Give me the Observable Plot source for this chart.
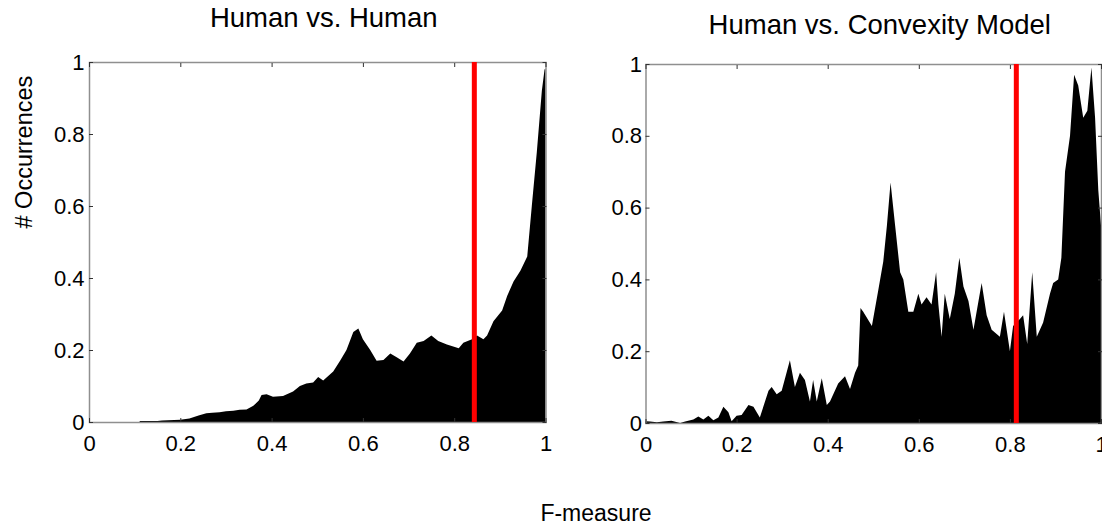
<!DOCTYPE html>
<html><head><meta charset="utf-8">
<script src="https://cdn.jsdelivr.net/npm/d3@7"></script>
<script src="https://cdn.jsdelivr.net/npm/@observablehq/plot@0.6"></script>
<style>
html,body{margin:0;padding:0;background:#fff;}
#wrap{position:relative;width:1102px;height:527px;display:flex;overflow:hidden;background:#fff;}
#xlabel{position:absolute;left:596px;top:502px;transform:translateX(-50%);font-family:"Liberation Sans",Arial,sans-serif;font-size:23px;line-height:23px;white-space:nowrap;color:#000;}
</style></head><body>
<div id="wrap"><div id="xlabel">F-measure</div></div>
<script>
// Tick values
const xTicks = [0, 0.2, 0.4, 0.6, 0.8, 1];
const yTicks = [0, 0.2, 0.4, 0.6, 0.8, 1];

// Panel titles and axis labels
const titleLeft = "Human vs. Human";
const titleRight = "Human vs. Convexity Model";
const yLabel = "# Occurrences";

// Human vs. Human distribution
const hhX = [0,0.11,0.112,0.15,0.16,0.2,0.22,0.24,0.257,0.27,
  0.286,0.3,0.316,0.33,0.345,0.36,0.372,0.378,0.389,0.403,
  0.425,0.447,0.462,0.476,0.491,0.502,0.513,0.535,0.55,0.564,
  0.579,0.59,0.6,0.616,0.63,0.645,0.66,0.674,0.689,0.703,
  0.718,0.733,0.75,0.765,0.784,0.81,0.82,0.839,0.85,0.864,
  0.872,0.886,0.905,0.916,0.93,0.945,0.96,0.97,0.981,0.992,
  0.998,1];
const hhY = [0,0,0.003,0.003,0.004,0.006,0.01,0.018,0.024,0.026,
  0.027,0.03,0.031,0.034,0.035,0.045,0.06,0.075,0.077,0.07,
  0.072,0.085,0.1,0.107,0.11,0.125,0.115,0.14,0.17,0.2,
  0.25,0.26,0.23,0.2,0.17,0.172,0.19,0.18,0.168,0.19,
  0.22,0.225,0.24,0.225,0.215,0.205,0.22,0.23,0.24,0.23,
  0.24,0.28,0.31,0.35,0.39,0.42,0.46,0.6,0.75,0.92,
  0.98,0.98];
const hhThreshold = 0.843;

// Human vs. Convexity Model distribution
const hcX = [0,0.01,0.025,0.039,0.057,0.076,0.087,0.105,0.116,0.127,
  0.138,0.149,0.16,0.171,0.182,0.189,0.2,0.211,0.226,0.237,
  0.251,0.27,0.277,0.288,0.299,0.317,0.328,0.339,0.35,0.361,
  0.368,0.376,0.387,0.398,0.405,0.423,0.438,0.449,0.46,0.467,
  0.472,0.478,0.497,0.511,0.522,0.53,0.538,0.548,0.559,0.566,
  0.577,0.588,0.599,0.606,0.617,0.628,0.638,0.643,0.65,0.657,
  0.668,0.679,0.689,0.698,0.709,0.72,0.738,0.749,0.76,0.778,
  0.787,0.8,0.807,0.822,0.829,0.838,0.849,0.859,0.873,0.888,
  0.895,0.906,0.913,0.921,0.932,0.941,0.95,0.961,0.97,0.979,
  0.987,0.994,1];
const hcY = [0.005,0.004,0.002,0.004,0.006,0,0.004,0.01,0.018,0.01,
  0.02,0.008,0.015,0.045,0.03,0.005,0.02,0.022,0.05,0.045,
  0.015,0.09,0.1,0.08,0.09,0.175,0.1,0.14,0.12,0.06,
  0.12,0.06,0.125,0.05,0.06,0.11,0.13,0.095,0.14,0.16,
  0.32,0.31,0.27,0.37,0.45,0.55,0.67,0.55,0.42,0.4,
  0.31,0.31,0.36,0.33,0.35,0.33,0.42,0.33,0.24,0.36,
  0.29,0.36,0.46,0.38,0.34,0.26,0.39,0.3,0.26,0.24,
  0.31,0.2,0.27,0.29,0.3,0.22,0.42,0.24,0.28,0.36,
  0.39,0.4,0.46,0.7,0.8,0.97,0.94,0.85,0.87,0.99,
  0.85,0.65,0.55];
const hcThreshold = 0.813;

const FONT = "'Liberation Sans', Arial, Helvetica, sans-serif";
const fmt = d => String(+d.toFixed(1));

function panel(o) {
  const data = o.xs.map((x, i) => ({x, y: o.ys[i]}));
  const marks = [
    Plot.areaY(data, {x: "x", y: "y", fill: "black"}),
    Plot.frame({stroke: "#8f8f8f", strokeWidth: 1.5}),
    Plot.axisX({anchor: "bottom", ticks: xTicks, tickSize: 0, tickPadding: 13, tickFormat: fmt, label: null, fontSize: 22}),
    Plot.axisY({anchor: "left", ticks: yTicks, tickSize: 0, tickPadding: o.ypad, tickFormat: fmt, label: null, fontSize: 22}),
    Plot.axisX({anchor: "bottom", ticks: xTicks, tickSize: -4, tickFormat: () => "", label: null, stroke: "#333"}),
    Plot.axisX({anchor: "top", ticks: xTicks, tickSize: -4, tickFormat: () => "", label: null, stroke: "#333"}),
    Plot.axisY({anchor: "left", ticks: yTicks, tickSize: -4, tickFormat: () => "", label: null, stroke: "#333"}),
    Plot.axisY({anchor: "right", ticks: yTicks, tickSize: -4, tickFormat: () => "", label: null, stroke: "#333"}),
    Plot.ruleX([o.thr], {stroke: "#ff0000", strokeWidth: 5}),
    Plot.text([o.title], {frameAnchor: "top", dx: 6, dy: o.titleDy, lineAnchor: "bottom", fontSize: 27.5, fill: "black"})
  ];
  if (o.ylabel) {
    marks.push(Plot.text([o.ylabel], {frameAnchor: "left", rotate: -90, dx: -65, dy: -14, fontSize: 23.5, fill: "black"}));
  }
  return Plot.plot({
    width: o.width,
    height: 527,
    marginLeft: o.ml, marginRight: o.mr, marginTop: o.mt, marginBottom: o.mb,
    x: {domain: [0, 1]},
    y: {domain: [0, 1]},
    style: `background: transparent; overflow: visible; font-family: ${FONT}; color: black;`,
    marks
  });
}

const wrap = document.getElementById("wrap");
const left = panel({xs: hhX, ys: hhY, thr: hhThreshold, title: titleLeft, ylabel: yLabel,
  width: 560, ml: 89, mr: 14.5, mt: 62, mb: 105, titleDy: -36, ypad: 5});
const right = panel({xs: hcX, ys: hcY, thr: hcThreshold, title: titleRight,
  width: 542, ml: 85.5, mr: 1, mt: 64, mb: 104, titleDy: -31, ypad: 4});
left.style.flex = "none"; right.style.flex = "none";
wrap.insertBefore(left, wrap.firstChild);
wrap.insertBefore(right, document.getElementById("xlabel"));
</script>
</body></html>
